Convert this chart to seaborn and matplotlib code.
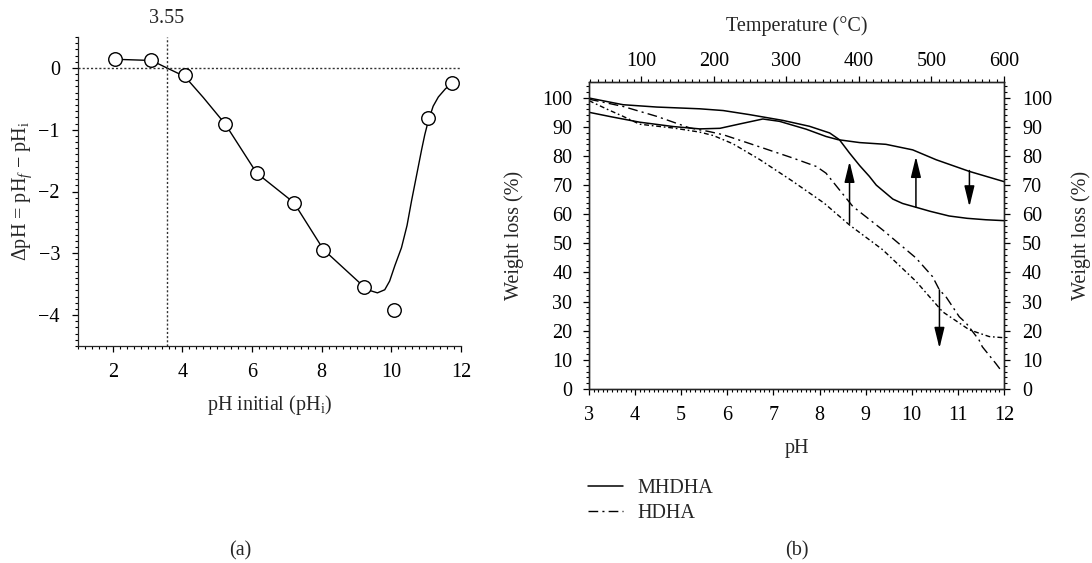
import matplotlib
matplotlib.use("Agg")
import matplotlib.pyplot as plt
import seaborn as sns
from matplotlib.lines import Line2D
from matplotlib.ticker import MultipleLocator, FixedLocator
import matplotlib.transforms as mtransforms

# (a) point of zero charge data
ph_initial = [2.05, 3.11, 4.07, 5.23, 6.13, 7.20, 8.05, 9.21, 10.07, 11.04, 11.73]
delta_ph = [0.14, 0.12, -0.12, -0.91, -1.70, -2.18, -2.94, -3.54, -3.91, -0.81, -0.25]

# smooth guide curve
fit_ph = [2.05, 3.11, 3.55, 4.07, 4.6, 5.23, 6.13, 7.20, 8.05, 9.21, 9.37, 9.6,
          9.81, 9.95, 10.1, 10.29, 10.45, 10.58, 10.72, 10.87, 10.96, 11.05,
          11.2, 11.35, 11.55, 11.73]
fit_dph = [0.14, 0.12, 0.0, -0.14, -0.48, -0.91, -1.70, -2.18, -2.94, -3.54, -3.60,
           -3.64, -3.59, -3.45, -3.2, -2.91, -2.55, -2.15, -1.75, -1.32, -1.08,
           -0.88, -0.62, -0.47, -0.34, -0.25]
pzc = 3.55

# (b) weight loss curves
mh_a_ph = [3.0, 3.74, 4.47, 5.40, 5.91, 6.48, 7.21, 7.78, 8.22, 8.43, 8.65, 8.87,
           9.08, 9.23, 9.44, 9.59, 9.8, 10.09, 10.4, 10.81, 11.2, 11.61, 12.0]
mh_a_wt = [99.9, 97.6, 96.8, 96.2, 95.6, 94.2, 92.2, 90.2, 87.9, 85.6, 81.0, 76.7,
           73.0, 70.0, 67.2, 65.2, 63.7, 62.4, 61.0, 59.4, 58.6, 58.1, 57.8]

mh_b_ph = [3.0, 3.5, 4.1, 4.83, 5.40, 5.84, 6.27, 6.77, 7.13, 7.71, 8.14, 8.40,
           8.87, 9.44, 10.02, 10.53, 11.25, 12.0]
mh_b_wt = [95.0, 93.4, 91.6, 90.1, 89.3, 89.5, 91.0, 92.7, 91.9, 89.2, 86.7, 85.6,
           84.6, 84.0, 82.1, 78.7, 74.7, 71.2]

hd_c_ph = [3.0, 3.74, 4.47, 5.19, 5.6, 5.91, 6.48, 7.42, 7.93, 8.14, 8.43, 8.72,
           9.37, 10.09, 10.45, 10.6, 10.74, 11.03, 11.18, 11.46, 11.53, 11.82, 11.93]
hd_c_wt = [99.5, 97.0, 93.6, 89.6, 88.4, 87.3, 84.3, 79.3, 76.4, 74.1, 68.4, 62.7,
           54.6, 45.0, 38.6, 34.0, 31.7, 24.8, 22.6, 16.8, 14.5, 8.8, 6.5]

hd_d_ph = [3.0, 3.4, 3.74, 4.1, 4.83, 5.4, 5.7, 6.12, 6.7, 7.4, 8.1, 8.65, 9.37,
           10.09, 10.67, 11.25, 11.68, 12.0]
hd_d_wt = [99.0, 96.0, 93.6, 90.9, 89.6, 88.2, 87.0, 84.2, 78.8, 71.5, 63.8, 56.3,
           47.8, 37.0, 26.5, 20.3, 18.0, 17.6]

# arrows (pH, from, to)
arrow_ph = [8.65, 10.09, 11.25, 10.6]
arrow_from = [56.9, 62.4, 75.0, 34.0]
arrow_to = [78.1, 79.8, 62.6, 14.0]

sns.set_style("ticks")
plt.rcParams['font.family'] = ['Liberation Serif', 'DejaVu Serif']
plt.rcParams['mathtext.fontset'] = 'custom'
plt.rcParams['mathtext.rm'] = 'Liberation Serif'
plt.rcParams['mathtext.it'] = 'Liberation Serif:italic'
plt.rcParams['axes.linewidth'] = 0.9
plt.rcParams['axes.unicode_minus'] = True
for a in ['xtick', 'ytick']:
    plt.rcParams[f'{a}.minor.visible'] = True
    plt.rcParams[f'{a}.minor.size'] = 2.2
    plt.rcParams[f'{a}.minor.width'] = 0.8
    plt.rcParams[f'{a}.major.size'] = 4
    plt.rcParams[f'{a}.major.width'] = 0.9
    plt.rcParams[f'{a}.color'] = 'black'
FS = 14.5

fig = plt.figure(figsize=(10.92, 5.63), dpi=100)
ax1 = fig.add_axes([78 / 1092, 1 - 346 / 563, 383 / 1092, 309 / 563])
ax2 = fig.add_axes([589 / 1092, 1 - 389 / 563, 415 / 1092, 307 / 563])


def style_ticks(ax, pad=8):
    ax.tick_params(which='major', direction='out', length=4, width=0.9,
                   labelsize=FS, pad=pad, color='black', labelcolor='black')
    ax.tick_params(which='minor', direction='out', length=2.2, width=0.8,
                   color='black')


# ---- panel (a)
sns.lineplot(x=fit_ph, y=fit_dph, ax=ax1, sort=False, estimator=None,
             color='black', lw=1.0)
sns.scatterplot(x=ph_initial, y=delta_ph, ax=ax1, s=95, color='white',
                edgecolor='black', linewidth=1.0, zorder=3)
ax1.axhline(0, color='#333333', lw=1.0, ls=(0, (1.5, 1.5)))
ax1.axvline(pzc, color='#333333', lw=1.0, ls=(0, (1.5, 1.5)))
ax1.set_xlim(1, 12)
ax1.set_ylim(-4.5, 0.5)
ax1.xaxis.set_major_locator(FixedLocator([2, 4, 6, 8, 10, 12]))
ax1.xaxis.set_minor_locator(MultipleLocator(0.2))
ax1.yaxis.set_major_locator(FixedLocator([0, -1, -2, -3, -4]))
ax1.yaxis.set_minor_locator(MultipleLocator(0.1))
for s in ['top', 'right']:
    ax1.spines[s].set_visible(False)
style_ticks(ax1, pad=8)
ax1.tick_params(axis='y', which='major', pad=9)
ax1.set_xlabel(r'pH initial (pH$_{\mathrm{i}}$)', fontsize=FS, labelpad=8)
ax1.set_ylabel(r'ΔpH = pH$_{\mathit{f}}$ − pH$_{\mathrm{i}}$', fontsize=FS, labelpad=3)
trans = mtransforms.blended_transform_factory(ax1.transData, ax1.transAxes)
ax1.text(pzc, 1.06, f'{pzc:.2f}', transform=trans, ha='center', va='center',
         fontsize=FS)

# ---- panel (b)
solid = dict(color='black', lw=1.1)
sns.lineplot(x=mh_a_ph, y=mh_a_wt, ax=ax2, sort=False, estimator=None, **solid)
sns.lineplot(x=mh_b_ph, y=mh_b_wt, ax=ax2, sort=False, estimator=None, **solid)
sns.lineplot(x=hd_c_ph, y=hd_c_wt, ax=ax2, sort=False, estimator=None,
             color='black', lw=1.0, linestyle=(0, (7, 3, 1.5, 3)))
sns.lineplot(x=hd_d_ph, y=hd_d_wt, ax=ax2, sort=False, estimator=None,
             color='black', lw=1.0, linestyle=(0, (3.5, 2, 1.2, 2)))
for xa, y0, y1 in zip(arrow_ph, arrow_from, arrow_to):
    ax2.annotate('', xy=(xa, y1), xytext=(xa, y0),
                 arrowprops=dict(arrowstyle='-|>,head_length=0.9,head_width=0.22',
                                 color='black', lw=1.1, shrinkA=0, shrinkB=0,
                                 mutation_scale=14))
ax2.set_xlim(3, 12)
ax2.set_ylim(0, 105.4)
ax2.xaxis.set_major_locator(MultipleLocator(1))
ax2.xaxis.set_minor_locator(MultipleLocator(0.1))
ax2.yaxis.set_major_locator(MultipleLocator(10))
ax2.yaxis.set_minor_locator(MultipleLocator(2))
style_ticks(ax2)
ax2.set_xlabel('pH', fontsize=FS, labelpad=10)
ax2.set_ylabel('Weight loss (%)', fontsize=FS, labelpad=13)

ax_top = ax2.twiny()
ax_top.set_xlim(28, 600)
ax_top.xaxis.set_major_locator(FixedLocator([100, 200, 300, 400, 500, 600]))
ax_top.xaxis.set_minor_locator(MultipleLocator(10))
style_ticks(ax_top, pad=4)
ax_top.set_xlabel('Temperature (°C)', fontsize=FS, labelpad=15)

ax_r = ax2.twinx()
ax_r.set_ylim(0, 105.4)
ax_r.yaxis.set_major_locator(MultipleLocator(10))
ax_r.yaxis.set_minor_locator(MultipleLocator(2))
style_ticks(ax_r, pad=9)
ax_r.set_ylabel('Weight loss (%)', fontsize=FS, labelpad=14)

handles = [Line2D([], [], color='black', lw=1.1),
           Line2D([], [], color='black', lw=1.0, linestyle=(0, (7, 3, 1.5, 3)))]
fig.legend(handles, ['MHDHA', 'HDHA'], loc='upper left',
           bbox_to_anchor=(588 / 1092, 1 - 479 / 563), frameon=False,
           fontsize=FS, handlelength=1.75, handletextpad=0.7, labelspacing=0.3,
           borderaxespad=0, borderpad=0)

fig.text(240 / 1092, 1 - 551 / 563, '(a)', ha='center', va='center', fontsize=FS)
fig.text(797 / 1092, 1 - 551 / 563, '(b)', ha='center', va='center', fontsize=FS)

fig.savefig('out.png', dpi=100)
